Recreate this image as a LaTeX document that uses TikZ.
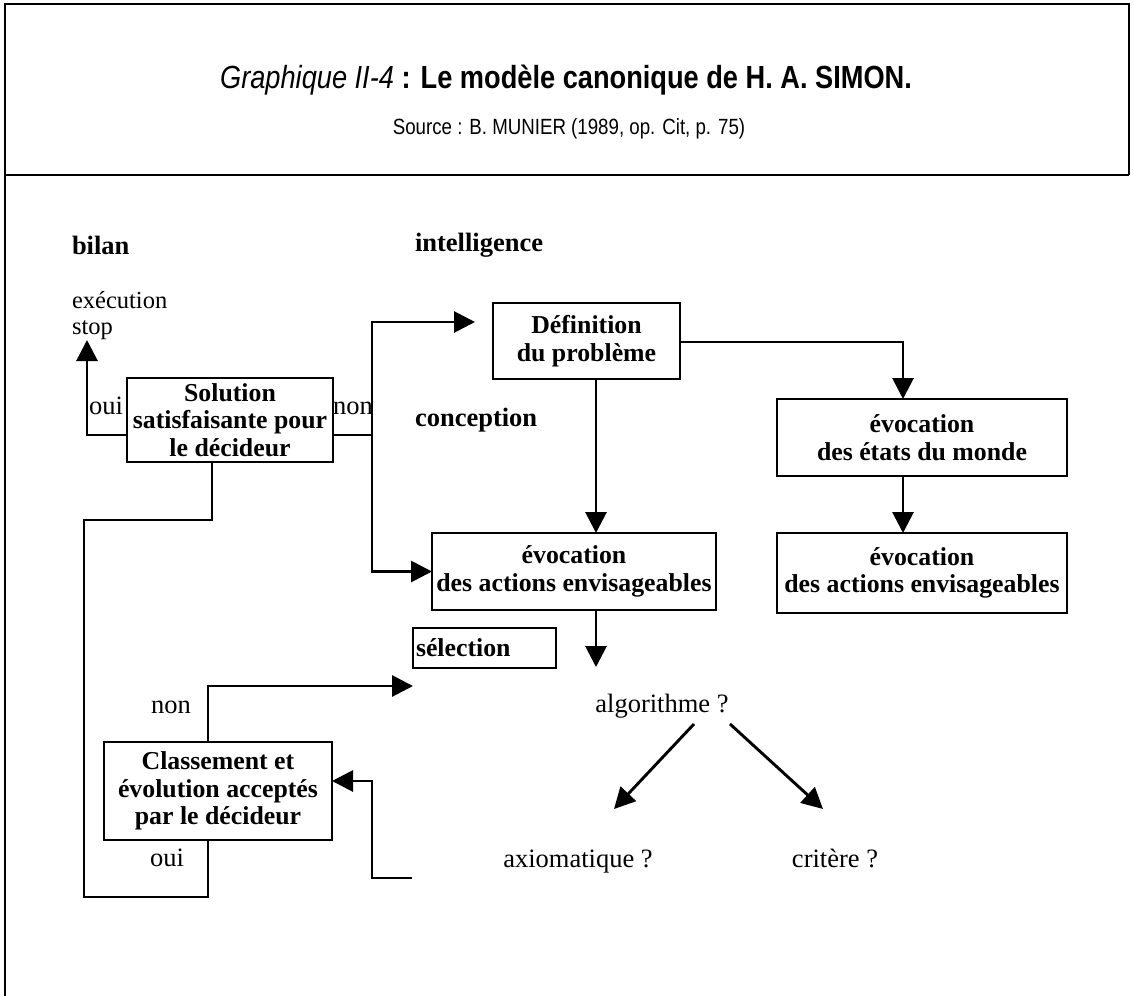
\documentclass[tikz,border=0pt]{standalone}
\usepackage{fontspec}
\setmainfont{Liberation Serif}
\setsansfont[FakeStretch=0.85]{Liberation Sans}
\usetikzlibrary{arrows.meta,calc}

\newcommand\diagfont{\fontsize{26.5}{27.5}\selectfont}
\newcommand\boxfont{\fontsize{25.8}{27.5}\selectfont}
\newcommand\smallfont{\fontsize{24.5}{27}\selectfont}

\begin{document}
\begin{tikzpicture}[x=1pt,y=-1pt,
  every node/.style={inner sep=0pt, outer sep=0pt},
  conn/.style={line width=2.9pt, line join=miter},
  arr/.style={conn, -{Triangle[length=21pt,width=21pt]}},
  box/.style={draw, line width=2.9pt, align=center, font=\boxfont\bfseries},
  lbl/.style={font=\diagfont},
  head/.style={font=\diagfont\bfseries},
  frame/.style={line width=1.8pt}]

\useasboundingbox (0,0) rectangle (1133,996);

% page frame and header rule
\draw[frame] (5,996) -- (5,4) -- (1129,4) -- (1129,175);
\draw[frame] (5,175) -- (1129,175);

% header
\node[font=\sffamily\fontsize{32}{36}\selectfont] (title) at (566,80)
  {\textit{Graphique II-4} \textbf{: Le modèle canonique de H. A. SIMON.}};
\node[font=\sffamily\fontsize{22}{26}\selectfont] (src) at (569,129)
  {Source : B. MUNIER (1989, op. Cit, p. 75)};

% phase headings
\node[head, anchor=west] (bilan) at (72,245) {bilan};
\node[head, anchor=west] (intel) at (415,245) {intelligence};
\node[head, anchor=west] (concep) at (415,420) {conception};
\node[font=\smallfont, anchor=base west] (exec) at (72,308) {exécution};
\node[font=\smallfont, anchor=base west] (stop) at (72,334) {stop};

% boxes
\node[box, minimum width=206pt, minimum height=84pt] (sol) at (230,420)
  {Solution\\satisfaisante pour\\le décideur};
\node[box, minimum width=187pt, minimum height=76pt] (def) at (586.5,341)
  {Définition\\du problème};
\node[box, minimum width=290pt, minimum height=77pt] (etats) at (922,437.5)
  {évocation\\des états du monde};
\node[box, minimum width=290pt, minimum height=80pt] (act2) at (922,573)
  {évocation\\des actions envisageables};
\node[box, minimum width=284pt, minimum height=77pt] (act1) at (574,571.5)
  {évocation\\des actions envisageables};
\node[draw, line width=2.9pt, font=\boxfont\bfseries, minimum height=40pt,
  text width=137pt, align=left, inner xsep=3pt, anchor=west] (sel) at (413,648)
  {sélection};
\node[box, minimum width=228pt, minimum height=98pt] (cls) at (218,791)
  {Classement et\\évolution acceptés\\par le décideur};

% answer labels
\node[lbl, anchor=base] (oui1) at (106,414) {oui};
\node[lbl, anchor=base] (non1) at (353,414) {non};
\node[lbl, anchor=base] (non2) at (171,713) {non};
\node[lbl, anchor=base] (oui2) at (167,866) {oui};

% choice of the selection rule
\node[lbl, anchor=base] (algo) at (662,712) {algorithme ?};
\node[lbl, anchor=base] (axio) at (578,867) {axiomatique ?};
\node[lbl, anchor=base] (crit) at (835,867) {critère ?};

% free ends of connectors
\coordinate (colx) at (596,0);
\coordinate (selend) at (596,667);
\coordinate (stopend) at (87,340);
\coordinate (nonend) at (413,686);
\coordinate (loopfoot) at (412,878);

% solution: yes -> stop, no -> back to intelligence and conception
\draw[arr] ([yshift=-15pt]sol.west) -| (stopend);
\draw[conn] ([yshift=-15pt]sol.east) -- ++(39,0) coordinate (j1);
\draw[arr] (j1) |- ([xshift=-18pt,yshift=19pt]def.west);
\draw[arr] (j1) |- (act1.west);

% intelligence / conception flow
\draw[arr] ([yshift=-1pt]def.east) -| ([xshift=-19pt]etats.north);
\draw[arr] (def.south -| colx) -- (act1.north -| colx);
\draw[arr] ([xshift=-19pt]etats.south) -- ([xshift=-19pt]act2.north);
\draw[arr] (act1.south -| colx) -- (selend);

% loop between the two decision boxes
\draw[conn] ([xshift=-18pt]sol.south) -- ++(0,58) -- ++(-128,0) -- ++(0,377)
  -| ([xshift=-10pt]cls.south);
\draw[arr] ([xshift=-10pt]cls.north) |- (nonend);
\draw[arr] (loopfoot) -- ++(-40,0) |- ([yshift=10pt]cls.east);

% algorithm branches
\draw[arr] ($(algo.base)+(32,12)$) -- ($(axio.base)+(36,-58)$);
\draw[arr] ($(algo.base)+(68,12)$) -- ($(crit.base)+(-12,-58)$);

\end{tikzpicture}
\end{document}
